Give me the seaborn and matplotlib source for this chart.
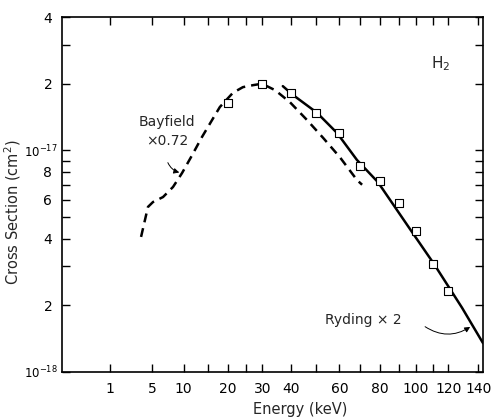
import numpy as np
import pandas as pd
import matplotlib
matplotlib.use("Agg")
import matplotlib.pyplot as plt
from matplotlib.ticker import FixedLocator, FixedFormatter, NullFormatter
import seaborn as sns

# ---- data ----
bay_energy = [3.66, 4.48, 5.13, 6.55, 8.14, 9.72, 11.64, 13.73, 16.0, 17.9, 21.3,
              24.1, 27.1, 29.9, 34.3, 39.6, 46.2, 52.8, 60.3, 68.3, 70.8]
bay_sigma = [4.07e-18, 5.56e-18, 5.85e-18, 6.16e-18, 6.84e-18, 7.9e-18, 9.5e-18,
             1.15e-17, 1.37e-17, 1.57e-17, 1.82e-17, 1.93e-17, 1.97e-17, 2.0e-17,
             1.87e-17, 1.65e-17, 1.37e-17, 1.14e-17, 9.3e-18, 7.35e-18, 7.0e-18]

ryd_energy = [37.0, 40.7, 50.2, 58.9, 68.3, 78.8, 97.6, 110.9, 128.9, 143.3]
ryd_sigma = [1.95e-17, 1.78e-17, 1.48e-17, 1.2e-17, 9.05e-18, 7.2e-18, 4.29e-18,
             3.07e-18, 1.95e-18, 1.35e-18]

pt_energy = [20, 30, 40, 50, 60, 70, 80, 90, 100, 110, 120]
pt_sigma = [1.64e-17, 2.0e-17, 1.82e-17, 1.48e-17, 1.2e-17, 8.5e-18, 7.3e-18,
            5.8e-18, 4.33e-18, 3.07e-18, 2.32e-18]

x_major = [1, 5, 10, 20, 30, 40, 60, 80, 100, 120, 140]
x_major_labels = ["1", "5", "10", "20", "30", "40", "60", "80", "100", "120", "140"]
x_minor = [15, 25, 50, 70, 90, 110]

y_major = [1e-18, 2e-18, 4e-18, 6e-18, 8e-18, 1e-17, 2e-17, 4e-17]
y_major_labels = [r"$10^{-18}$", "2", "4", "6", "8", r"$10^{-17}$", "2", "4"]
y_minor = [3e-18, 5e-18, 7e-18, 9e-18, 3e-17]

bay_df = pd.DataFrame({"E": bay_energy, "s": bay_sigma})
ryd_df = pd.DataFrame({"E": ryd_energy, "s": ryd_sigma})
pt_df = pd.DataFrame({"E": pt_energy, "s": pt_sigma})

# ---- figure ----
sns.set_style("ticks")
plt.rcParams["font.family"] = ["DejaVu Sans"]
plt.rcParams["mathtext.fontset"] = "dejavusans"

fig = plt.figure(figsize=(4.98, 4.19), dpi=100)
ax = fig.add_axes([0.1245, 0.1122, 0.8454, 0.8472])

def fwd(x):
    x = np.asarray(x, dtype=float)
    return np.sign(x) * np.sqrt(np.abs(x))

def inv(y):
    y = np.asarray(y, dtype=float)
    return np.sign(y) * y ** 2

ax.set_xscale("function", functions=(fwd, inv))
ax.set_yscale("log")

sns.lineplot(data=bay_df, x="E", y="s", sort=False, estimator=None, ax=ax,
             color="black", lw=1.8, linestyle=(0, (3.6, 2.4)))
sns.lineplot(data=ryd_df, x="E", y="s", sort=False, estimator=None, ax=ax,
             color="black", lw=1.8)
sns.scatterplot(data=pt_df, x="E", y="s", ax=ax, marker="s", s=28,
                facecolor="white", edgecolor="black", linewidth=0.8, zorder=5)

ax.set_xlim(-0.17, 143.3)
ax.set_ylim(1e-18, 4e-17)

ax.xaxis.set_major_locator(FixedLocator(x_major))
ax.xaxis.set_major_formatter(FixedFormatter(x_major_labels))
ax.xaxis.set_minor_locator(FixedLocator(x_minor))
ax.xaxis.set_minor_formatter(NullFormatter())
ax.yaxis.set_major_locator(FixedLocator(y_major))
ax.yaxis.set_major_formatter(FixedFormatter(y_major_labels))
ax.yaxis.set_minor_locator(FixedLocator(y_minor))
ax.yaxis.set_minor_formatter(NullFormatter())

ax.tick_params(which="both", direction="in", top=True, right=True,
               length=6, width=1.0, labelsize=10, pad=7, colors="black")
for sp in ax.spines.values():
    sp.set_linewidth(1.2)
    sp.set_color("black")

fig.canvas.draw()
for i, t in enumerate(ax.yaxis.get_major_ticks()):
    if y_major_labels[i].startswith("$"):
        t.label1.set_fontsize(8.5)
        t.set_pad(3)

ax.set_xlabel("Energy (keV)", fontsize=10.5)
ax.set_ylabel("Cross Section (cm$^2$)", fontsize=10.5)
ax.xaxis.set_label_coords(0.565, -0.085)
ax.yaxis.set_label_coords(-0.093, 0.45)

# ---- annotations ----
ax.text(0.90, 0.87, "H$_2$", transform=ax.transAxes, ha="center", va="center",
        fontsize=11)
ax.text(0.25, 0.678, "Bayfield\n\u00d70.72", transform=ax.transAxes, ha="center",
        va="center", fontsize=10, linespacing=1.4)
ax.annotate("", xy=(bay_energy[5], bay_sigma[5]), xytext=(0.249, 0.597),
            textcoords="axes fraction",
            arrowprops=dict(arrowstyle="-|>", connectionstyle="arc3,rad=0.3",
                            lw=0.7, color="black", mutation_scale=8))
ax.text(0.715, 0.146, "Ryding \u00d7 2", transform=ax.transAxes, ha="center",
        va="center", fontsize=10)
tipE = 136.0
tipS = 10 ** np.interp(np.sqrt(tipE), np.sqrt(ryd_energy), np.log10(ryd_sigma))
ax.annotate("", xy=(tipE, tipS), xytext=(0.857, 0.132),
            textcoords="axes fraction",
            arrowprops=dict(arrowstyle="-|>", connectionstyle="arc3,rad=0.35",
                            lw=0.7, color="black", mutation_scale=8))

fig.savefig("out.png", dpi=100)
